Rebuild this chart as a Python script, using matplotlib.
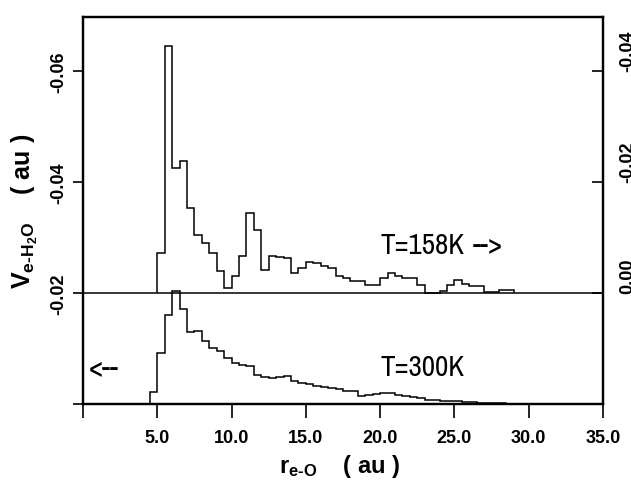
import numpy as np
import matplotlib
matplotlib.use("Agg")
import matplotlib.pyplot as plt
from matplotlib import font_manager

# histogram of V(e-H2O) vs r(e-O), bins of 0.5 au
bin_w = 0.5

# T=300K, left axis, first bin starts at 4.5 au
r0_300 = 4.5
v_300 = [-0.0022, -0.0092, -0.0160, -0.0204, -0.0171, -0.0130, -0.0132, -0.0114,
         -0.0101, -0.0095, -0.0083, -0.0074, -0.0070, -0.0068, -0.0052, -0.0049,
         -0.0047, -0.0049, -0.0050, -0.0041, -0.0038, -0.0036, -0.0032, -0.0031,
         -0.0029, -0.0027, -0.0023, -0.0023, -0.0014, -0.0016, -0.0018, -0.0020,
         -0.0020, -0.0016, -0.0014, -0.0013, -0.0011, -0.0007, -0.0007, -0.0005,
         -0.0005, -0.0005, -0.0004, -0.0004, -0.0002, -0.0002, -0.0001, -0.0001,
         -0.0000]

# T=158K, right axis, first bin starts at 5.0 au
r0_158 = 5.0
v_158 = [-0.0072, -0.0445, -0.0225, -0.0238, -0.0153, -0.0105, -0.0090, -0.0072,
         -0.0040, -0.0009, -0.0031, -0.0067, -0.0144, -0.0114, -0.0041, -0.0067,
         -0.0065, -0.0063, -0.0036, -0.0045, -0.0056, -0.0054, -0.0049, -0.0045,
         -0.0031, -0.0027, -0.0022, -0.0022, -0.0014, -0.0014, -0.0027, -0.0036,
         -0.0031, -0.0027, -0.0027, -0.0014, 0.0000, 0.0000, -0.0004, -0.0014,
         -0.0023, -0.0016, -0.0013, -0.0013, -0.0002, -0.0002, -0.0005, -0.0005]

xticks = [0, 5, 10, 15, 20, 25, 30, 35]
xticklabels = ["", "5.0", "10.0", "15.0", "20.0", "25.0", "30.0", "35.0"]
lticks = [0, -0.02, -0.04, -0.06]
lticklabels = ["", "-0.02", "-0.04", "-0.06"]
rticks = [0.0, -0.02, -0.04]
rticklabels = ["0.00", "-0.02", "-0.04"]

# a narrow face if there is one, else plain Liberation Sans a bit smaller
narrow, tsize = "Liberation Sans", 18
for f in font_manager.fontManager.ttflist:
    if "Narrow" in f.name or "Condensed" in f.name:
        narrow, tsize = f.name, 21
        break

plt.rcParams["font.family"] = "Liberation Sans"
plt.rcParams["mathtext.fontset"] = "custom"
plt.rcParams["mathtext.rm"] = "Liberation Sans:bold"
plt.rcParams["mathtext.it"] = "Liberation Sans:bold"
plt.rcParams["mathtext.bf"] = "Liberation Sans:bold"

fig = plt.figure(figsize=(6.31, 4.81), dpi=100)
ax = fig.add_axes([83 / 631, 76 / 481, 520 / 631, 387 / 481])

e300 = r0_300 + bin_w * np.arange(len(v_300) + 1)
e158 = r0_158 + bin_w * np.arange(len(v_158) + 1)

ax.stairs(v_300, e300, baseline=0, color="k", lw=1.1)
ax.set_xlim(0, 35)
ax.set_ylim(0, -0.0697)

ax2 = ax.twinx()
ax2.set_ylim(0.02, -0.0497)
ax2.axhline(0, color="k", lw=1.1)
ax2.stairs(v_158, e158, baseline=0, color="k", lw=1.1)

for a in (ax, ax2):
    for s in a.spines.values():
        s.set_linewidth(1.6)

ax.set_xticks(xticks)
ax.set_xticklabels(xticklabels, fontsize=13, fontweight="bold")
ax.tick_params(axis="x", direction="out", length=10, width=1.2, pad=8)
ax.set_yticks(lticks)
ax.set_yticklabels(lticklabels, fontsize=13, fontweight="bold", rotation=90, va="center")
ax.tick_params(axis="y", direction="out", length=7, width=1.2, pad=4)

ax2.set_yticks(rticks)
ax2.set_yticklabels(rticklabels, fontsize=13, fontweight="bold", rotation=90, va="bottom")
ax2.tick_params(axis="y", direction="in", length=8, width=1.2, pad=12)

ax.text(20.0, -0.0288, "T=158K", family=narrow, fontsize=tsize, va="center", ha="left")
ax.text(26.2, -0.0288, "-->", family=narrow, fontsize=tsize, va="center", ha="left")
ax.text(20.0, -0.0067, "T=300K", family=narrow, fontsize=tsize, va="center", ha="left")
ax.text(0.4, -0.0067, "<--", family=narrow, fontsize=tsize, va="center", ha="left")

fig.text(340 / 631, 1 - 467 / 481, r"r$_{\mathregular{e‐O}}$    ( au )",
         fontsize=17, fontweight="bold", ha="center", va="center")
fig.text(25 / 631, 1 - 211 / 481, r"V$_{\mathregular{e‐H_2O}}$    ( au )",
         fontsize=18, fontweight="bold", ha="center", va="center", rotation=90)

fig.savefig("out.png", dpi=100)
